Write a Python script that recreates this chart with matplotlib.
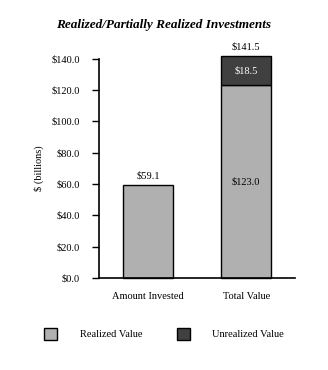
import matplotlib
matplotlib.use("Agg")
import matplotlib.pyplot as plt
from matplotlib.patches import Patch

plt.rcParams["font.family"] = ["Liberation Serif", "DejaVu Serif"]

categories = ["Amount Invested", "Total Value"]
realized = [59.1, 123.0]
unrealized = [0.0, 18.5]
totals = [59.1, 141.5]
yticks = [0, 20, 40, 60, 80, 100, 120, 140]

light = "#b0b0b0"
dark = "#404040"

fig = plt.figure(figsize=(3.28, 3.70), dpi=100)
ax = fig.add_axes([0.302, 0.249, 0.598, 0.592])

x = list(range(len(categories)))
ax.bar(x, realized, width=0.51, color=light, edgecolor="black", linewidth=1.0,
       clip_on=False, zorder=2)
ax.bar(x[1], unrealized[1], bottom=realized[1], width=0.51, color=dark,
       edgecolor="black", linewidth=1.0, clip_on=False, zorder=2)

# value labels: totals above the bars, segments in the middle of the stack
for xi, t in zip(x, totals):
    ax.annotate("$%.1f" % t, (xi, t), xytext=(0, 7), textcoords="offset points",
                ha="center", va="center", fontsize=7.5, annotation_clip=False)
ax.text(x[1], realized[1] / 2, "$%.1f" % realized[1], ha="center", va="center",
        fontsize=7.5)
ax.text(x[1], realized[1] + unrealized[1] / 2, "$%.1f" % unrealized[1],
        ha="center", va="center", fontsize=7.5, color="white")

ax.set_xlim(-0.5, 1.5)
ax.set_ylim(0, 140)
ax.set_yticks(yticks)
ax.set_yticklabels(["$%.1f" % v for v in yticks], fontsize=7.5)
ax.set_xticks(x)
ax.set_xticklabels(categories, fontsize=7.5)
ax.tick_params(axis="y", direction="out", length=5, width=1, pad=9)
ax.tick_params(axis="x", length=0, pad=10)
ax.spines["top"].set_visible(False)
ax.spines["right"].set_visible(False)
ax.spines["left"].set_linewidth(1.2)
ax.spines["bottom"].set_linewidth(1.2)
ax.set_ylabel("$ (billions)", fontsize=7.5, labelpad=5)

fig.text(0.5, 1 - 25 / 370, "Realized/Partially Realized Investments",
         ha="center", va="center", fontsize=9.5, fontweight="bold", style="italic")

handles = [Patch(facecolor=light, edgecolor="black", linewidth=1.0),
           Patch(facecolor=dark, edgecolor="black", linewidth=1.0)]
fig.legend(handles, ["Realized Value", "Unrealized Value"], loc="center",
           bbox_to_anchor=(0.5, 1 - 334 / 370), ncol=2, frameon=False,
           fontsize=7.5, handlelength=1.25, handleheight=1.35,
           handletextpad=2.2, columnspacing=3.3)

fig.savefig("out.png", dpi=100)
